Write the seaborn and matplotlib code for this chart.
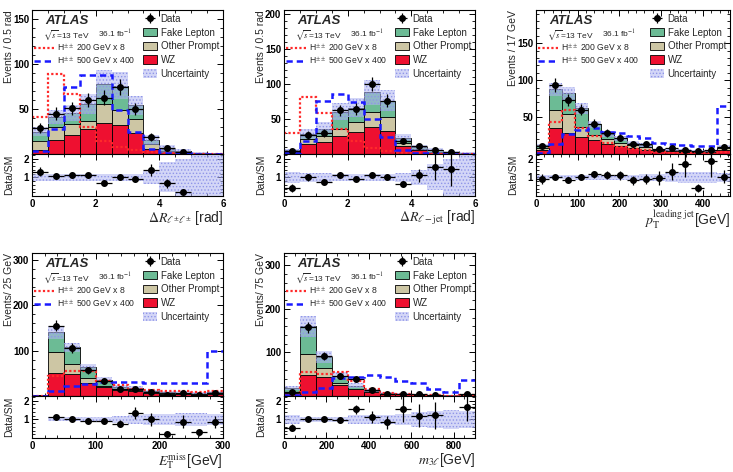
import numpy as np
import pandas as pd
import seaborn as sns
import matplotlib
matplotlib.use('Agg')
import matplotlib.pyplot as plt
from matplotlib.lines import Line2D
from matplotlib.patches import Patch
from matplotlib.ticker import AutoMinorLocator

sns.set_theme(style='ticks')
plt.rcParams['font.family'] = ['Liberation Sans', 'DejaVu Sans']
plt.rcParams['mathtext.fontset'] = 'stix'
plt.rcParams['hatch.color'] = '#8f95e8'
plt.rcParams['hatch.linewidth'] = 0.6

# ---- dR(l+-l+-) ----
drll_edges = [0, 0.5, 1, 1.5, 2, 2.5, 3, 3.5, 4, 4.5, 5, 5.5, 6]
drll_wz = [4, 16, 21.6, 28, 34.7, 32.5, 23.5, 6, 1.9, 1, 0.4, 0.2]
drll_op = [11, 14, 12, 9, 21.3, 16.5, 15.5, 5, 1.6, 1, 0.3, 0.2]
drll_fake = [10, 11, 11.9, 19, 22, 27, 15, 5, 2.1, 1, 0.4, 0.3]
drll_data = [29, 45, 51, 60, 62.7, 74.6, 50, 19.4, 6.3, 1.9, np.nan, np.nan]
drll_ratio = [1.29, 1.06, 1.15, 1.1, 0.71, 1.0, 0.9, 1.38, 0.67, 0.23, np.nan, np.nan]
drll_unc = [0.2, 0.2, 0.2, 0.2, 0.2, 0.2, 0.2, 0.35, 0.8, 1.0, 1.3, 1.3]
drll_h200 = [41, 89, 67, 30, 15, 8, 4, 2, 1, 0.5, 0.2, 0.1]
drll_h500 = [3.7, 28, 74, 88, 88, 48.5, 24, 5.6, 1.5, 1, 0.5, 0.5]

# ---- dR(l-jet) ----
drlj_edges = [0, 0.5, 1, 1.5, 2, 2.5, 3, 3.5, 4, 4.5, 5, 5.5, 6]
drlj_wz = [2.5, 14, 17, 26, 31, 39, 33, 11, 5, 2.4, 1.2, 0.5]
drlj_op = [1.5, 8, 8, 10, 14, 21, 20, 5, 2, 0.9, 0.6, 0.2]
drlj_fake = [2, 7, 11, 24, 21, 28, 23, 7, 2.5, 1.7, 0.6, 0.3]
drlj_data = [4, 27, 30, 62, 64, 100, 76, 19, 11, 5, 2.4, np.nan]
drlj_ratio = [0.42, 1.0, 0.77, 1.15, 0.9, 1.15, 1.0, 0.62, 1.1, 1.54, 1.44, np.nan]
drlj_unc = [0.3, 0.25, 0.25, 0.2, 0.2, 0.2, 0.2, 0.25, 0.4, 0.7, 1.0, 1.3]
drlj_h200 = [30, 81, 58, 35, 18, 9, 4, 2, 1, 0.5, 0.2, 0.1]
drlj_h500 = [2, 19, 76, 85, 74, 50, 24, 5, 1, 1, 0.5, 0.5]

# ---- leading jet pT ----
ptj_edges = [0, 31, 62, 93, 124, 155, 186, 217, 248, 279, 310, 341, 372, 403, 434, 465]
ptj_wz = [5, 35, 29, 23, 19, 14, 11, 8, 6, 4, 3.5, 3, 2.5, 2.5, 5]
ptj_op = [3, 25, 25, 13, 7, 6, 4, 4, 3, 1, 1.5, 1, 1, 1, 3]
ptj_fake = [4, 28, 28, 26, 14, 7, 6, 3, 3, 1, 1, 1, 1, 1, 2]
ptj_data = [10.6, 93, 73, 60, 41, 29, 22, 13, 13, 7, 7.5, 6, 4, 4.8, 10]
ptj_ratio = [0.91, 1.04, 0.85, 1.04, 1.16, 1.13, 1.11, 0.85, 0.91, 0.98, 1.31, 1.71, 0.44, 1.89, 1.04]
ptj_unc = [0.15, 0.1, 0.1, 0.12, 0.12, 0.15, 0.15, 0.15, 0.2, 0.2, 0.25, 0.3, 0.3, 0.3, 0.25]
ptj_h200 = [2, 44, 59, 35, 25, 15, 10, 7, 5, 3, 2, 1.5, 1, 1, 3]
ptj_h500 = [1.6, 13, 27, 33, 35, 30, 29, 25, 22, 15, 13, 12, 10.6, 10.6, 65]

# ---- ETmiss ----
met_edges = [0, 25, 50, 75, 100, 125, 150, 175, 200, 225, 250, 275, 300]
met_wz = [1, 51, 49, 28, 19, 13.5, 10.6, 7, 5, 4.5, 4, 5]
met_op = [0.8, 47, 22, 12, 4, 3, 2.4, 2, 1.5, 1.5, 1.5, 1.5]
met_fake = [0.7, 42, 36, 23, 13, 3.5, 4, 2, 1.9, 1.7, 1.5, 1.9]
met_data = [np.nan, 155, 106, 57, 33, 16, 16, 8.4, 2, 6.8, 2.1, 7.4]
met_ratio = [np.nan, 1.1, 1.0, 0.93, 0.93, 0.77, 1.35, 1.0, 0.22, 0.88, 0.3, 0.88]
met_unc = [0, 0.1, 0.1, 0.12, 0.15, 0.2, 0.25, 0.3, 0.3, 0.35, 0.35, 0.3]
met_h200 = [1, 45, 56, 56, 34, 24, 16, 13, 11, 10, 9, 12]
met_h500 = [0.5, 10.6, 23, 27, 30, 30, 30, 29, 28, 28, 28, 100]

# ---- m3l ----
m3l_edges = [0, 75, 150, 225, 300, 375, 450, 525, 600, 675, 750, 825, 900]
m3l_wz = [7, 48, 44, 26, 15, 9.3, 5, 3.5, 2, 1.5, 1, 2.5]
m3l_op = [2, 49, 20, 4, 2, 1.7, 1, 0.5, 0.5, 0.4, 0.2, 0.5]
m3l_fake = [9.6, 63, 25, 17, 7, 1, 1, 0.5, 0.5, 0.4, 0.3, 0.9]
m3l_data = [9.3, 158, 92, 46, 38, 13, 5.4, 4.7, 3.6, 2.8, np.nan, 5]
m3l_ratio = [0.55, 1.0, 1.03, 0.95, 1.53, 1.13, 0.84, 1.56, 1.19, 1.21, np.nan, 1.65]
m3l_unc = [0.25, 0.15, 0.15, 0.15, 0.25, 0.25, 0.25, 0.3, 0.4, 0.45, 0.5, 0.45]
m3l_h200 = [1.5, 54, 50, 56, 34, 17, 8, 5, 3, 2, 1, 2]
m3l_h500 = [3, 9.3, 18.6, 42, 44, 48, 44, 34, 29, 15.5, 9.3, 36]

W, H = 733, 472
fig = plt.figure(figsize=(W / 100, H / 100), dpi=100)

colors = {'Fake Lepton': '#6cbb95', 'Other Prompt': '#cdc6a4', 'WZ': '#ee1030'}
unc_face = (0.69, 0.71, 0.95, 0.55)
unc_hatch = '#8f95e8'


def rect(x0, y0, x1, y1):
    return [x0 / W, 1 - y1 / H, (x1 - x0) / W, (y1 - y0) / H]


def panel(box, edges, wz, op, fake, data, ratio, unc, h200, h500,
          xlabel, ylabel, ytop, ystep, xticks):
    x0, x1, y0, ymid, y1 = box
    wpx = x1 - x0
    hpx = ymid - y0
    ax = fig.add_axes(rect(x0, y0, x1, ymid))
    rax = fig.add_axes(rect(x0, ymid, x1, y1), sharex=ax)

    bins = list(edges)
    edges = np.asarray(edges, float)
    centers = (edges[:-1] + edges[1:]) / 2
    half = np.diff(edges) / 2
    n = len(centers)
    data = np.asarray(data, float)
    ratio = np.asarray(ratio, float)
    unc = np.asarray(unc, float)

    # stacked backgrounds
    df = pd.DataFrame({
        'x': np.tile(centers, 3),
        'w': np.concatenate([fake, op, wz]),
        'process': np.repeat(list(colors), n),
    })
    sns.histplot(data=df, x='x', weights='w', hue='process',
                 hue_order=list(colors), palette=colors, multiple='stack',
                 bins=bins, alpha=1, edgecolor='black', linewidth=0.6,
                 legend=False, ax=ax)

    total = np.asarray(wz) + np.asarray(op) + np.asarray(fake)
    ax.stairs(total * (1 + unc), edges, baseline=total * (1 - unc), fill=True,
              facecolor=unc_face, edgecolor=unc_hatch, hatch='.....', lw=0)

    ax.stairs(h200, edges, baseline=None, color='#ff2a2a', lw=1.6,
              ls=(0, (1, 1)))
    ax.stairs(h500, edges, baseline=None, color='#1a1aff', lw=1.8,
              ls=(0, (2.5, 1.6)))

    eb = ax.errorbar(centers, data, yerr=np.sqrt(data), xerr=half, fmt='o',
                     color='black', ms=4, lw=0.9, capsize=0, label='Data')

    # ratio
    rax.stairs(1 + unc, edges, baseline=1 - unc, fill=True,
               facecolor=unc_face, edgecolor=unc_hatch, hatch='.....', lw=0)
    rax.errorbar(centers, ratio, yerr=ratio / np.sqrt(data), xerr=half,
                 fmt='o', color='black', ms=4, lw=0.9, capsize=0)

    ax.set_xlim(edges[0], edges[-1])
    ax.set_ylim(0, ytop)
    rax.set_ylim(0, 2.25)

    yt = np.arange(ystep, ytop, ystep)
    ax.set_yticks(yt)
    ax.set_yticklabels([f'{v:g}' for v in yt], fontweight='bold', fontsize=7)
    rax.set_yticks([1, 2])
    rax.set_yticklabels(['1', '2'], fontweight='bold', fontsize=7)
    rax.set_xticks(xticks)
    rax.set_xticklabels([f'{v:g}' for v in xticks], fontweight='bold',
                        fontsize=7)
    for a in (ax, rax):
        a.xaxis.set_minor_locator(AutoMinorLocator())
        a.yaxis.set_minor_locator(AutoMinorLocator())
        a.tick_params(which='both', direction='in', top=True, right=True,
                      pad=2, colors='black')
        a.tick_params(which='major', length=4, width=0.7)
        a.tick_params(which='minor', length=2, width=0.6)
        for s in a.spines.values():
            s.set_linewidth(0.8)
            s.set_color('black')
    ax.tick_params(labelbottom=False)

    ax.set_xlabel('')
    ax.set_ylabel(ylabel, loc='top', fontsize=7.5)
    rax.set_ylabel('Data/SM', fontsize=7.5)
    lx = -18 / wpx
    ax.yaxis.set_label_coords(lx, 1.0)
    rax.yaxis.set_label_coords(lx, 0.5)
    rax.set_xlabel(xlabel, loc='right', fontsize=10, labelpad=0)

    ax.text(13 / wpx, 1 - 5 / hpx, 'ATLAS', transform=ax.transAxes,
            fontsize=9.5, fontweight='bold', style='italic', va='top')
    ax.text(11 / wpx, 1 - 18 / hpx, r'$\sqrt{s}$=13 TeV',
            transform=ax.transAxes, fontsize=6.0, va='top')
    ax.text(66 / wpx, 1 - 18 / hpx, r'36.1 fb$^{-1}$',
            transform=ax.transAxes, fontsize=6.0, va='top')

    right = [eb,
             Patch(facecolor=colors['Fake Lepton'], edgecolor='black', lw=0.6, label='Fake Lepton'),
             Patch(facecolor=colors['Other Prompt'], edgecolor='black', lw=0.6, label='Other Prompt'),
             Patch(facecolor=colors['WZ'], edgecolor='black', lw=0.6, label='WZ'),
             Patch(facecolor=unc_face, edgecolor=unc_hatch, hatch='.....', lw=0, label='Uncertainty')]
    leg1 = ax.legend(handles=right, loc='upper right', fontsize=7.0,
                     frameon=False, handlelength=1.4, handleheight=0.95,
                     labelspacing=0.38, handletextpad=0.4,
                     borderaxespad=0.1, borderpad=0.3)
    ax.add_artist(leg1)
    left = [Line2D([], [], color='#ff2a2a', lw=1.6, ls=(0, (1, 1)),
                   label=r'H$^{\pm\pm}$ 200 GeV x 8'),
            Line2D([], [], color='#1a1aff', lw=1.8, ls=(0, (2.5, 1.6)),
                   label=r'H$^{\pm\pm}$ 500 GeV x 400')]
    ax.legend(handles=left, loc='upper left',
              bbox_to_anchor=(0.0, 1 - 31 / hpx),
              fontsize=6.2, frameon=False, handlelength=2.4,
              labelspacing=0.2, handletextpad=0.35, borderaxespad=0.0,
              borderpad=0.2)


row1 = (10, 154, 196)
row2 = (253, 396, 438)

panel((32, 223) + row1, drll_edges, drll_wz, drll_op, drll_fake, drll_data,
      drll_ratio, drll_unc, drll_h200, drll_h500,
      r'$\Delta R_{\ell^{\pm}\ell^{\pm}}$ [rad]', 'Events / 0.5 rad',
      160, 50, [0, 2, 4, 6])
panel((284, 475) + row1, drlj_edges, drlj_wz, drlj_op, drlj_fake, drlj_data,
      drlj_ratio, drlj_unc, drlj_h200, drlj_h500,
      r'$\Delta R_{\ell-\mathrm{jet}}$ [rad]', 'Events / 0.5 rad',
      205, 50, [0, 2, 4, 6])
panel((536, 730) + row1, ptj_edges, ptj_wz, ptj_op, ptj_fake, ptj_data,
      ptj_ratio, ptj_unc, ptj_h200, ptj_h500,
      r'$p_{\mathrm{T}}^{\mathrm{leading\ jet}}$[GeV]', 'Events / 17 GeV',
      195, 50, [0, 100, 200, 300, 400])
panel((32, 223) + row2, met_edges, met_wz, met_op, met_fake, met_data,
      met_ratio, met_unc, met_h200, met_h500,
      r'$E_{\mathrm{T}}^{\mathrm{miss}}$[GeV]', 'Events/ 25 GeV',
      315, 100, [0, 100, 200, 300])
panel((284, 475) + row2, m3l_edges, m3l_wz, m3l_op, m3l_fake, m3l_data,
      m3l_ratio, m3l_unc, m3l_h200, m3l_h500,
      r'$m_{3\ell}$[GeV]', 'Events/ 75 GeV',
      328, 100, [0, 200, 400, 600, 800])

fig.savefig('out.png', dpi=100)
